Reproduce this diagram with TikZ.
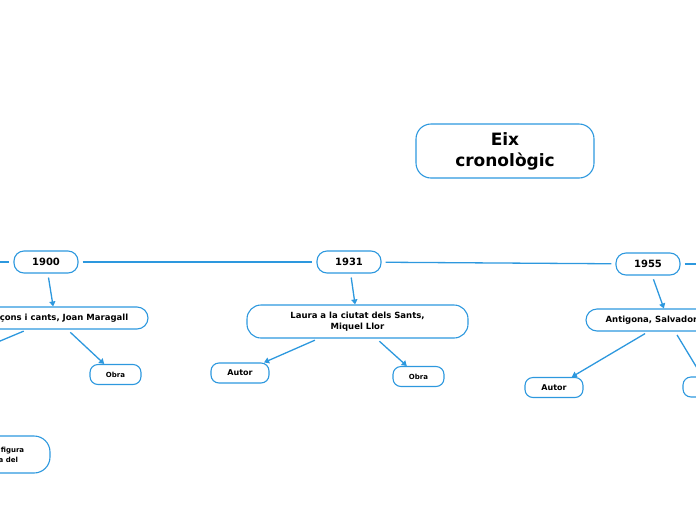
\documentclass[tikz,border=0pt]{standalone}
\usepackage{fontspec}
\setmainfont{DejaVu Sans}
\usetikzlibrary{arrows.meta,positioning}
\definecolor{mapblue}{RGB}{45,152,222}

\begin{document}
\begin{tikzpicture}[x=1pt,y=-1pt,every node/.style={font=\bfseries,inner sep=0pt},
 yr/.style={draw=mapblue,line width=1.1pt,rounded corners=10pt,minimum width=64pt,minimum height=22pt,font=\bfseries\fontsize{10}{12}\selectfont},
 tp/.style={draw=mapblue,line width=1.1pt,rounded corners=11pt,minimum height=22pt,align=center,font=\bfseries\fontsize{8.5}{10.5}\selectfont},
 sm/.style={draw=mapblue,line width=1.1pt,rounded corners=8pt,minimum height=20pt,align=center,font=\bfseries\fontsize{7}{9}\selectfont},
 ln/.style={draw=mapblue,line width=1.3pt,shorten <=4pt,shorten >=4pt},
 arr/.style={mapblue,line width=1.3pt,-{Triangle[length=5pt,width=6pt]},shorten <=4pt}]
\useasboundingbox (0,0) rectangle (696,520);
\node[draw=mapblue,line width=1.1pt,rounded corners=15pt,minimum width=178pt,minimum height=54pt,align=center,font=\bfseries\fontsize{17}{21}\selectfont] (eix) at (505,151) {Eix\\ cronològic};
% anys
\node[yr] (y1900) at (46,262) {1900};
\node[yr] (y1931) at (349,262) {1931};
\node[yr] (y1955) at (648,264) {1955};
\coordinate (axL) at (-60,262);
\coordinate (axR) at (760,264);
\draw[ln,shorten <=0pt](axL)--(y1900);\draw[ln](y1900)--(y1931);\draw[ln](y1931)--(y1955);\draw[ln,shorten >=0pt](y1955)--(axR);
% obres
\node[tp,minimum width=186pt] (cancons) at (55,318) {Cançons i cants, Joan Maragall};
\node[tp,minimum width=221pt,minimum height=33pt,rounded corners=14pt] (laura) at (357.5,321.5) {Laura a la ciutat dels Sants,\\ Miquel Llor};
\node[tp,minimum width=164pt] (antigona) at (668,320) {Antigona, Salvador Espriu};
\draw[arr](y1900)--(cancons);\draw[arr](y1931)--(laura);\draw[arr](y1955)--(antigona);
% fills
\coordinate (aut1900) at (-50,362);
\node[sm,minimum width=51pt] (obr1900) at (115.5,374.5) {Obra};
\node[sm,minimum width=58pt,font=\bfseries\fontsize{8}{10}\selectfont] (aut1931) at (240,373) {Autor};
\node[sm,minimum width=51pt] (obr1931) at (418.5,376.5) {Obra};
\node[sm,minimum width=58pt,font=\bfseries\fontsize{8}{10}\selectfont] (aut1955) at (554,387.5) {Autor};
\node[sm,minimum width=51pt] (obr1955) at (708.5,387) {Obra};
\node[sm,minimum width=120pt,minimum height=37pt,rounded corners=16pt,font=\bfseries\fontsize{7}{9.5}\selectfont] (figura) at (-10,454.5) {La màxima figura\\ de la lírica del};
\draw[arr](cancons)--(aut1900);\draw[arr](cancons)--(obr1900);
\draw[arr](laura)--(aut1931);\draw[arr](laura)--(obr1931);
\draw[arr](antigona)--(aut1955);\draw[arr](antigona)--(obr1955);
\end{tikzpicture}
\end{document}
